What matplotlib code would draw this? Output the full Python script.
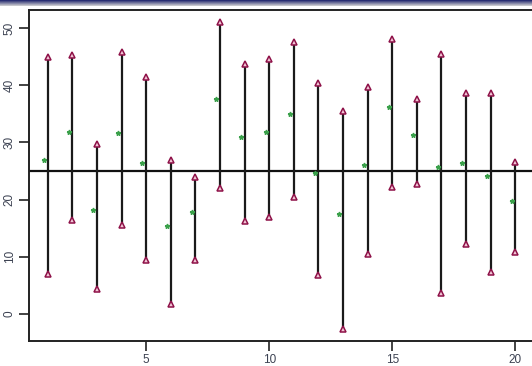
import numpy as np
import matplotlib
matplotlib.use("Agg")
import matplotlib.pyplot as plt

# interval index, bounds and sample means
idx = np.arange(1, 21)
upper = [45.0, 45.3, 29.7, 45.8, 41.5, 26.9, 23.9, 51.0, 43.7, 44.5,
         47.5, 40.4, 35.4, 39.7, 48.1, 37.5, 45.5, 38.6, 38.7, 26.5]
lower = [6.9, 16.4, 4.4, 15.5, 9.4, 1.8, 9.5, 22.0, 16.2, 17.0,
         20.4, 6.8, -2.6, 10.5, 22.2, 22.7, 3.7, 12.2, 7.4, 10.9]
means = [26.9, 31.8, 18.1, 31.6, 26.4, 15.4, 17.8, 37.6, 31.0, 31.8,
         35.0, 24.7, 17.5, 26.1, 36.1, 31.2, 25.6, 26.4, 24.1, 19.7]
mu = 25
xticks = [5, 10, 15, 20]
yticks = [0, 10, 20, 30, 40, 50]

plt.rcParams['font.family'] = ['Liberation Sans', 'DejaVu Sans']

fig = plt.figure(figsize=(5.32, 3.66), dpi=100)

# window title bar gradient at the very top
bar = fig.add_axes([0, 1 - 6 / 366, 1, 6 / 366])
grad = np.linspace(0, 1, 6)[:, None]
cols = np.array([0.16, 0.18, 0.45])[None, :] * (1 - grad) + np.array([0.78, 0.78, 0.80])[None, :] * grad
bar.imshow(cols[:, None, :].repeat(10, axis=1), aspect='auto', extent=[0, 1, 0, 1])
bar.axis('off')

ax = fig.add_axes([29 / 532, 25 / 366, 505 / 532, 331 / 366])

n = len(idx)
pad = 0.04 * (n - 1)
ax.set_xlim(1 - pad, n + pad)
lo, hi = min(lower), max(upper)
ypad = 0.04 * (hi - lo)
ax.set_ylim(lo - ypad, hi + ypad)

ax.vlines(idx, lower, upper, color='#1a1a1a', lw=1.6, zorder=2)
ax.axhline(mu, color='#111111', lw=1.6, zorder=1)
ax.plot(idx, upper, ls='none', marker='^', ms=5, mfc='#f2c6d6', mec='#8e1148', mew=1.1, zorder=3)
ax.plot(idx, lower, ls='none', marker='^', ms=5, mfc='#f2c6d6', mec='#8e1148', mew=1.1, zorder=3)
ax.plot(idx - 0.15, means, ls='none', marker='*', ms=3.5, color='#3aa04a', zorder=3)

ax.set_xticks(xticks)
ax.set_yticks(yticks)
ax.tick_params(axis='both', direction='out', length=7, width=1.2, colors='#222222',
               labelsize=8.5, labelcolor='#3c4252', pad=2.5)
for lab in ax.get_yticklabels():
    lab.set_rotation(90)
    lab.set_va('center')
for s in ax.spines.values():
    s.set_linewidth(1.4)
    s.set_color('#222222')

fig.savefig('out.png', dpi=100)
